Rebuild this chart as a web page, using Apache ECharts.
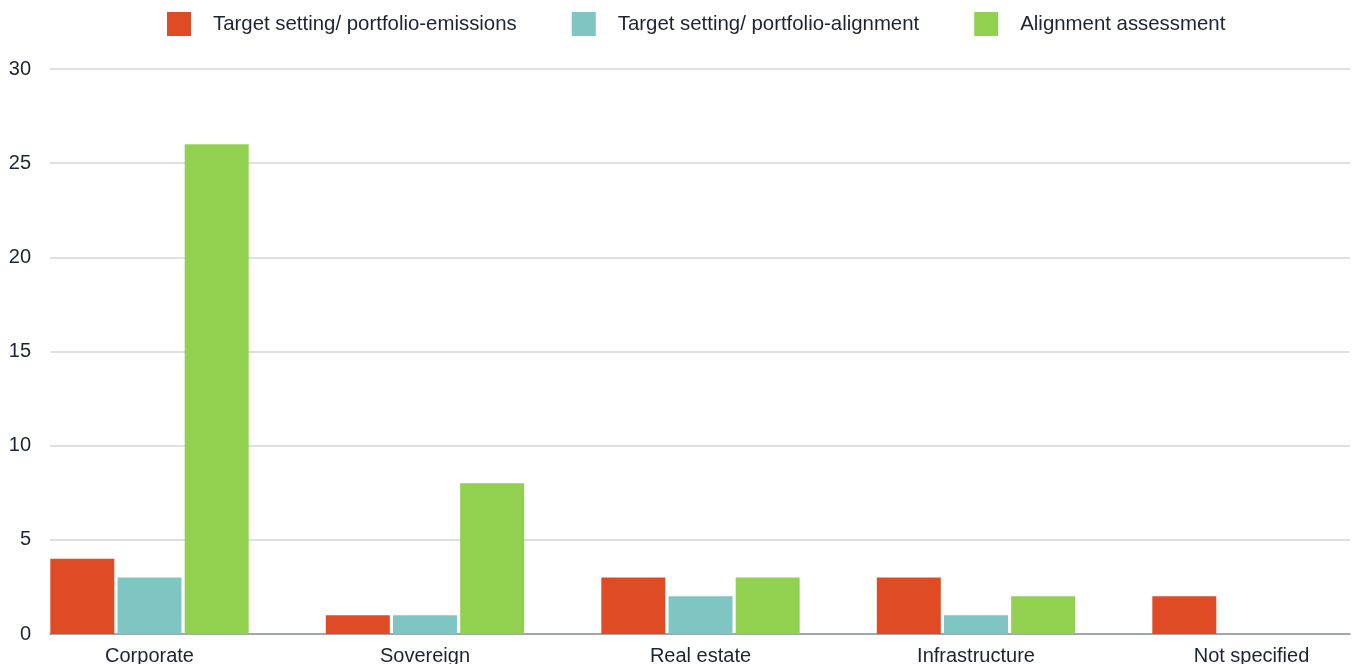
<!DOCTYPE html>
<html>
<head>
<meta charset="utf-8">
<script src="https://cdn.jsdelivr.net/npm/echarts@6/dist/echarts.min.js"></script>
<style>
  html, body { margin: 0; padding: 0; background: #fff; }
  #chart { width: 1352px; height: 664px; }
</style>
</head>
<body>
<div id="chart"></div>
<script>
const categories = ['Corporate', 'Sovereign', 'Real estate', 'Infrastructure', 'Not specified'];
const seriesNames = ['Target setting/ portfolio-emissions', 'Target setting/ portfolio-alignment', 'Alignment assessment'];
const emissions = [4, 1, 3, 3, 2];
const alignment = [3, 1, 2, 1, 0];
const assessment = [26, 8, 3, 2, 0];
const colors = ['#DF4B24', '#7FC6C2', '#92D050'];

const font = '"Liberation Sans", Arial, sans-serif';
const textColor = '#1c2433';

const chart = echarts.init(document.getElementById('chart'));

chart.setOption({
    animation: false,
    color: colors,
    textStyle: { fontFamily: font },
    legend: {
        top: 12,
        left: 167,
        padding: 0,
        itemWidth: 24,
        itemHeight: 24,
        itemGap: 55,
        icon: 'rect',
        textStyle: { fontSize: 20.4, color: textColor, fontFamily: font, padding: [0, 0, 0, 17] },
        data: seriesNames
    },
    grid: [
        // gridlines + y labels
        { left: 50, right: 2, top: 69, bottom: 30, outerBoundsMode: 'none' },
        // bars (wider so categories spread like the reference)
        { left: 11.75, width: 1377.5, top: 69, bottom: 30, outerBoundsMode: 'none' }
    ],
    xAxis: [
        {
            gridIndex: 0, type: 'value', min: 0, max: 1,
            axisLine: { show: true, onZero: false, lineStyle: { color: '#8a929c', width: 1.5 } },
            axisTick: { show: false }, axisLabel: { show: false }, splitLine: { show: false }
        },
        {
            gridIndex: 1, type: 'category', data: categories,
            axisLine: { show: false }, axisTick: { show: false },
            axisLabel: { fontSize: 20, color: textColor, margin: 12, fontFamily: font }
        }
    ],
    yAxis: [
        {
            gridIndex: 0, type: 'value', min: 0, max: 30, interval: 5,
            axisLine: { show: false }, axisTick: { show: false },
            axisLabel: { fontSize: 20, color: textColor, margin: 19, fontFamily: font },
            splitLine: { lineStyle: { color: '#d3d7db', width: 1.5 } }
        },
        {
            gridIndex: 1, type: 'value', min: 0, max: 30, show: false
        }
    ],
    series: [
        { name: seriesNames[0], type: 'bar', xAxisIndex: 1, yAxisIndex: 1, data: emissions, barGap: '5%', barCategoryGap: '28%' },
        { name: seriesNames[1], type: 'bar', xAxisIndex: 1, yAxisIndex: 1, data: alignment, barGap: '5%', barCategoryGap: '28%' },
        { name: seriesNames[2], type: 'bar', xAxisIndex: 1, yAxisIndex: 1, data: assessment, barGap: '5%', barCategoryGap: '28%' }
    ]
});
</script>
</body>
</html>
